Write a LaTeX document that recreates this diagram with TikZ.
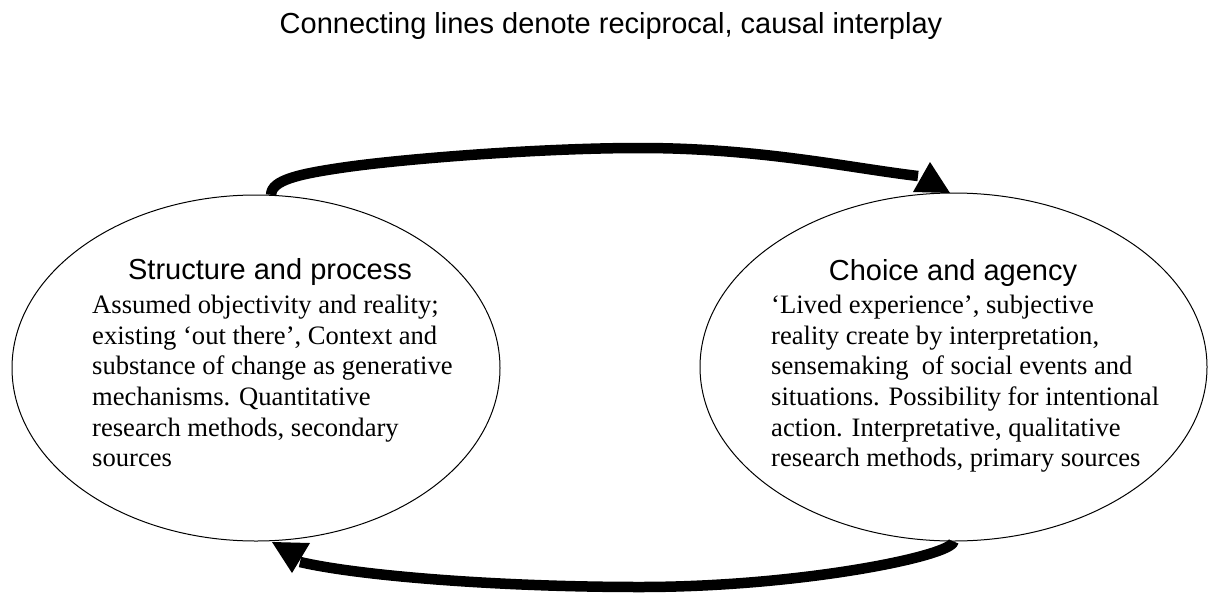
\documentclass[tikz,border=0pt]{standalone}
\usepackage{fontspec}
\setmainfont{Liberation Serif}
\newfontfamily\arialfont{Liberation Sans}
\usepackage{tikz}
\usetikzlibrary{shapes.geometric}
\newcommand{\headfont}{\arialfont\fontsize{29}{33}\selectfont}
\newcommand{\bodyfont}{\fontsize{26.6}{30.7}\selectfont}
\def\lw{10.5pt}

\begin{document}
\begin{tikzpicture}[x=1pt, y=-1pt, line join=round,
	bubble/.style={draw, ellipse, line width=1pt, inner sep=0pt},
	head/.style={font=\headfont, anchor=base, inner sep=0pt},
	body/.style={font=\bodyfont, anchor=north west, align=left, inner sep=0pt},
	link/.style={line width=\lw}]
	\useasboundingbox (0,0) rectangle (1214,594);
	\node[head] (title) at (611,34) {Connecting lines denote reciprocal, causal interplay};
	\node[bubble, minimum width=488pt, minimum height=346pt] (sp) at (256,368) {};
	\node[bubble, minimum width=507pt, minimum height=348pt] (ca) at (953.5,367) {};
	\node[head] (sphead) at (270,279) {Structure and process};
	\node[head] (cahead) at (953,280) {Choice and agency};
	\node[body] (spbody) at (92,294.8) {Assumed objectivity and reality;\\
		existing `out there', Context and\\
		substance of change as generative\\
		mechanisms. Quantitative\\
		research methods, secondary\\
		sources};
	\node[body] (cabody) at (771,294.8) {`Lived experience', subjective\\
		reality create by interpretation,\\
		sensemaking~ of social events and\\
		situations. Possibility for intentional\\
		action. Interpretative, qualitative\\
		research methods, primary sources};
	\coordinate (upend) at (918,176);
	\coordinate (uptip) at (950,193);
	\coordinate (lowend) at (300,562);
	\coordinate (lowtip) at (292,573);
	\draw[link] (sp.85) .. controls (271,180) and (300,174) .. (340,168)
		.. controls (400,159) and (540,148) .. (640,148)
		.. controls (760,148) and (850,168) .. (upend);
	\fill (uptip) -- (930,162) -- (913,192) -- cycle;
	\draw[link] (ca.south) .. controls (952,556) and (800,587) .. (640,587)
		.. controls (500,587) and (360,576) .. (lowend);
	\fill (lowtip) -- (310,543) -- (272,542) -- cycle;
\end{tikzpicture}
\end{document}
